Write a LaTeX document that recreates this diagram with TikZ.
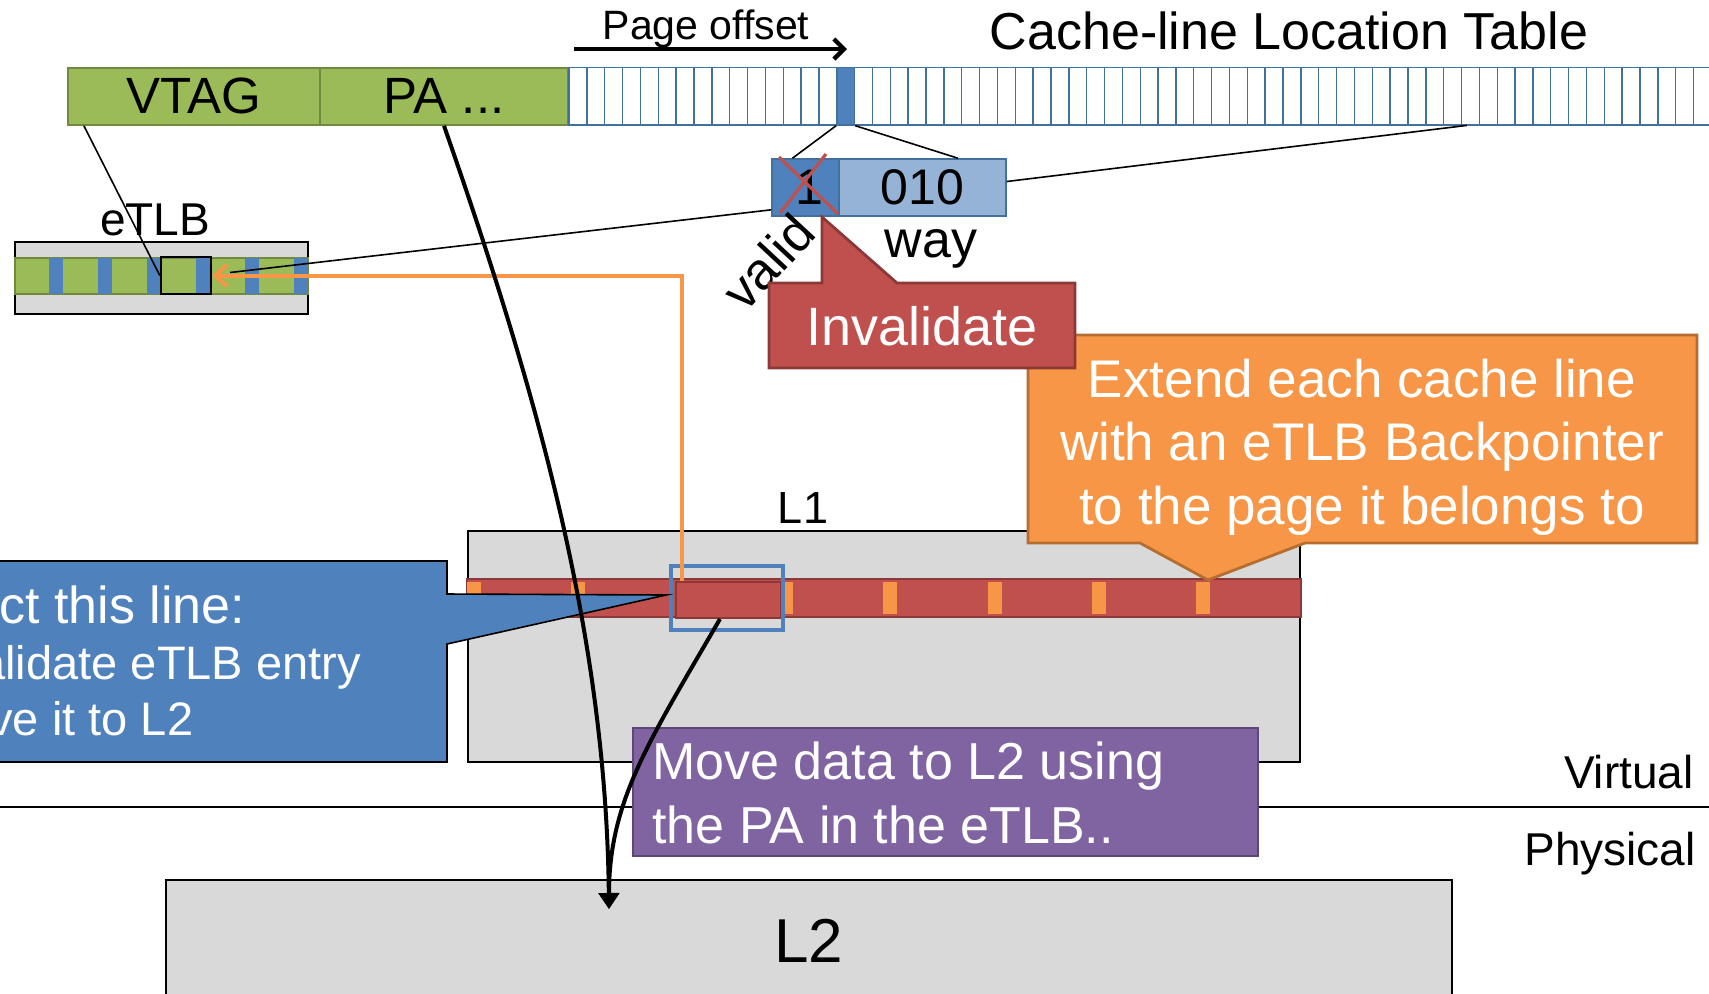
\documentclass[tikz,border=0pt]{standalone}
\usepackage{fontspec}
\setmainfont{Liberation Sans}
\usepackage{tikz}
\usetikzlibrary{positioning, arrows.meta, fit, calc}
\definecolor{tagGreen}{HTML}{9BBB59}
\definecolor{tagGreenDark}{HTML}{71893F}
\definecolor{ptrBlue}{HTML}{4F81BD}
\definecolor{ptrBlueLight}{HTML}{95B3D7}
\definecolor{ptrBlueDark}{HTML}{41719C}
\definecolor{lineRed}{HTML}{C0504D}
\definecolor{lineRedDark}{HTML}{8C3836}
\definecolor{noteOrange}{HTML}{F79646}
\definecolor{noteOrangeDark}{HTML}{B66D31}
\definecolor{notePurple}{HTML}{8064A2}
\definecolor{notePurpleDark}{HTML}{5C4776}
\definecolor{cacheGrey}{HTML}{D9D9D9}
\newcommand{\fsz}[2]{\fontsize{#1}{#2}\selectfont}
\tikzset{
  field/.style={draw=tagGreenDark, fill=tagGreen, line width=0.8pt},
  fieldtext/.style={font=\fsz{25.5}{30}},
  cltcell/.style={draw=ptrBlueDark, line width=0.7pt},
  cachebox/.style={draw=black, fill=cacheGrey, line width=0.7pt},
  thinlink/.style={draw=black, line width=0.8pt},
  fatlink/.style={draw=black, line width=2pt, -{Triangle[width=10pt,length=8pt]}},
  notetext/.style={text=white, font=\fsz{26.5}{31.75}},
  evictnote/.style={fill=ptrBlue, draw=black, line width=0.8pt},
  extnote/.style={fill=noteOrange, draw=noteOrangeDark, line width=1.4pt},
  invnote/.style={fill=lineRed, draw=lineRedDark, line width=1.4pt}
}
\begin{document}
\begin{tikzpicture}[x=0.5pt, y=-0.5pt, every node/.style={inner sep=0pt}]
        \useasboundingbox (0,0) rectangle (1709,993);
        % Entry of the Cache-line Location Table
        \node[field, fit={(67.7,67.7) (320,125)}] (vtag) {};
        \node[field, fit={(320,67.7) (568,125)}] (pa) {};
        \node[fieldtext] (vtaglbl) at (vtag.center) {VTAG};
        \node[fieldtext] (palbl) at (pa.center) {PA ...};
        \foreach \i in {0,...,63} {
          \draw[cltcell] ({569+17.85*\i},67.7) rectangle ++(17.85,57.3);
        }
        \node[fit={(569,67.7) (1711,125)}] (clt) {};
        \node[cltcell, fill=ptrBlue, fit={(836.8,67.7) (854.6,125)}] (hit) {};
        \coordinate (offL) at (574,49);
        \coordinate (offR) at (847,49);
        \draw[line width=2.2pt, -{Straight Barb[length=5pt,width=10pt]}] (offL) -- (offR);
        \node[anchor=base, font=\fsz{20.5}{24}] (offlbl) at (706,39) {Page offset};
        \node[anchor=base, font=\fsz{26}{30}] (clttitle) at (1289,49) {Cache-line Location Table};
        % Valid bit and way
        \node[draw=ptrBlueDark, fill=ptrBlue, line width=0.8pt, fit={(772,159) (839,216)}] (valid) {};
        \node[draw=ptrBlueDark, fill=ptrBlueLight, line width=0.8pt, fit={(839,159) (1006,216)}] (way) {};
        \node[font=\fsz{25}{30}] (validval) at ($(valid.center)+(4,0)$) {1};
        \node[font=\fsz{25}{30}] (wayval) at (way.center) {010};
        \draw[lineRed, line width=1.6pt] (779,157) -- (838,214) (826,154) -- (780,213);
        \node[rotate=47, font=\fsz{26}{30}] (validlbl) at (768,262) {valid};
        \node[anchor=base, font=\fsz{26}{30}] (waylbl) at (931,257) {way};
        % eTLB
        \node[cachebox, fit={(15,242) (308,314)}] (etlb) {};
        \node[fill=tagGreen, draw=tagGreenDark, line width=0.6pt, fit={(15,258) (308,294)}] (etlbstrip) {};
        \foreach \i in {0,...,5} {
          \fill[ptrBlue] ({49+49*\i},258) rectangle ++(14,36);
        }
        \node[draw=black, line width=1.2pt, fit={(161,257) (211,294)}] (entry) {};
        \node[anchor=base, font=\fsz{23}{28}] (etlblbl) at (155,235) {eTLB};
        % Virtual / physical
        \coordinate (vpL) at (0,807);
        \coordinate (vpR) at (1709,807);
        \draw[line width=0.8pt] (vpL) -- (vpR);
        \node[anchor=base east, font=\fsz{23}{28}] (virt) at (1694,788) {Virtual};
        \node[anchor=base east, font=\fsz{23}{28}] (phys) at (1696,865) {Physical};
        % L2 and L1
        \node[cachebox, fit={(166,880) (1452,1003)}] (l2) {};
        \node[anchor=base, font=\fsz{31}{36}] (l2lbl) at (809,962) {L2};
        \node[cachebox, fit={(468,531) (1300,762)}] (l1) {};
        \node[anchor=base, font=\fsz{22.5}{27}] (l1lbl) at (803,523) {L1};
        \node[fill=lineRed, draw=lineRedDark, line width=1.3pt, fit={(467,579) (1301,617)}] (l1line) {};
        \foreach \i in {0,1,3,4,5,6,7} {
          \fill[noteOrange] ({467+104.1*\i},582) rectangle ++(14,32);
        }
        \node[fill=lineRed, draw=lineRedDark, line width=1pt, fit={(676,582) (781,618)}] (victim) {};
        \node[draw=ptrBlue, line width=2pt, fit={(671,566) (783,630)}] (victimframe) {};
        % Backpointer
        \draw[noteOrange, line width=2pt, -{Straight Barb[length=6pt,width=11pt]}]
          ($(victim.north west)+(7,0)$) |- (entry.east);
        % Evict callout
        \draw[evictnote] (-10,561) -- (447,561) -- (447,594) -- (666,595) -- (447,644) -- (447,762) -- (-10,762) -- cycle;
        \node[anchor=north west, align=left, text=white, font=\fsz{23.5}{28}] (evicttext) at (-1,585.5)
          {{\fsz{26}{28}ct this line:}\\\hspace*{-10pt}alidate eTLB entry\\\hspace*{-5pt}ve it to L2};
        % Move note
        \node[fill=notePurple, draw=notePurpleDark, line width=1.4pt, fit={(633,728) (1258,856)}] (movenote) {};
        \node[notetext, anchor=north west, align=left, font=\fsz{26}{32}] (movetext) at (652,741.5)
          {Move data to L2 using\\the PA in the eTLB..};
        % Paths to L2
        \coordinate (l2in) at (609,909);
        \draw[fatlink] (pa.south) .. controls (540,400) and (606,640) .. (l2in);
        \draw[fatlink] ($(victim.south west)!0.42!(victim.south east)$) .. controls (650,740) and (609,800) .. (l2in);
        % Zoom lines
        \draw[thinlink] ($(vtag.south west)+(17,0)$) -- (entry.west);
        \draw[thinlink] ($(valid.south west)+(0,-7)$) -- ($(entry.east)+(18,-3)$);
        \draw[thinlink] (hit.south west) -- ($(valid.north west)!0.31!(valid.north east)$);
        \draw[thinlink] (hit.south east) -- ($(way.north west)!0.71!(way.north east)$);
        \draw[thinlink] ($(way.east)+(0,-6)$) -- ($(clt.south west)!0.786!(clt.south east)$);
        % Extend callout
        \draw[extnote] (1028,335) -- (1697,335) -- (1697,543) -- (1305,543) -- (1208,580) -- (1140,543) -- (1028,543) -- cycle;
        \node[notetext, anchor=north, align=center] (exttext) at (1362,358.5)
          {Extend each cache line\\with an eTLB Backpointer\\to the page it belongs to};
        % Invalidate callout
        \draw[invnote] (769,283) -- (822,283) -- (822,217) -- (897,283) -- (1075,283) -- (1075,368) -- (769,368) -- cycle;
        \node[anchor=base, text=white, font=\fsz{27}{32}] (invtext) at (922,345) {Invalidate};
      \end{tikzpicture}
\end{document}
